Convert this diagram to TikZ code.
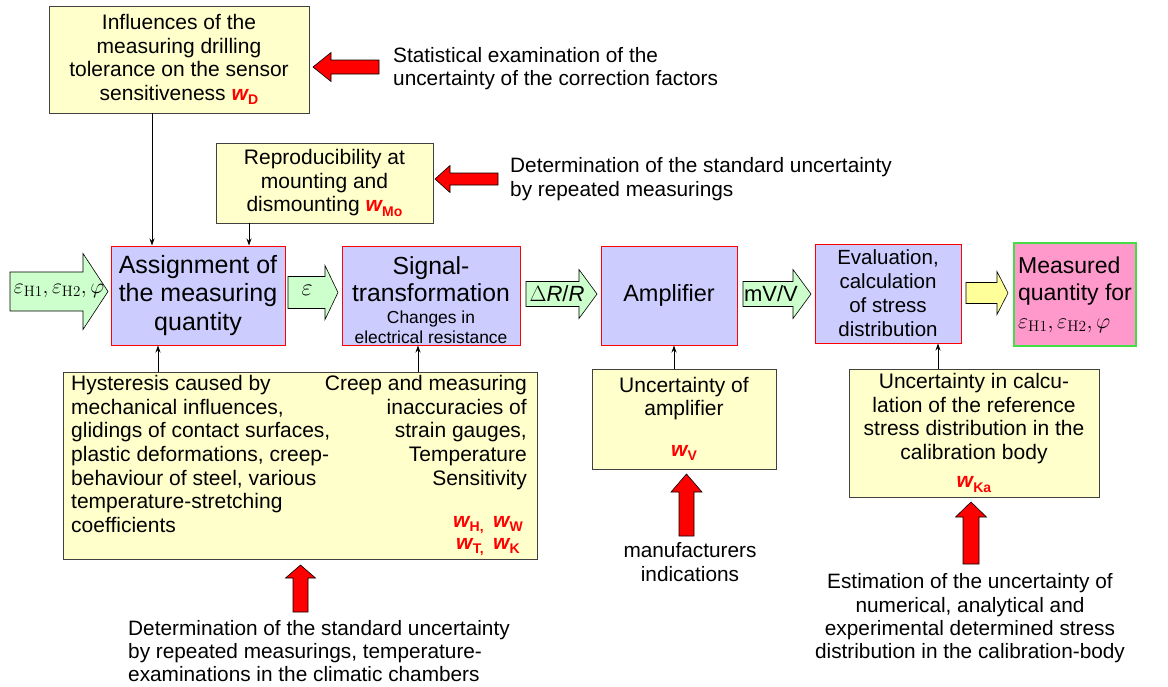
\RequirePackage{fix-cm}
\documentclass[tikz,border=0pt]{standalone}
\usepackage[no-math]{fontspec}
\setmainfont{Liberation Sans}
\usetikzlibrary{arrows.meta}
\definecolor{ybox}{HTML}{FFFFCC}
\definecolor{lav}{HTML}{CCCCFF}
\definecolor{garrow}{HTML}{CCFFCC}
\definecolor{pinkbox}{HTML}{FF99CC}
\definecolor{gborder}{HTML}{44DD44}
\definecolor{yarrow}{HTML}{FFFF99}
\newcommand{\wl}[1]{{\color{red}\bfseries\itshape w\kern0.3pt\raisebox{-0.4ex}{\upshape\fontsize{14}{14}\selectfont #1}}}
% horizontal block arrow: style, tail x, tip x, centre y, body half, head half, head-base x
\newcommand{\harrow}[7]{\draw[#1] (#2,#4-#5) -- (#7,#4-#5) -- (#7,#4-#6) -- (#3,#4) -- (#7,#4+#6) -- (#7,#4+#5) -- (#2,#4+#5) -- cycle;}
% vertical block arrow: style, centre x, tail y, tip y, body half, head half, head-base y
\newcommand{\varrow}[7]{\draw[#1] (#2-#5,#3) -- (#2-#5,#7) -- (#2-#6,#7) -- (#2,#4) -- (#2+#6,#7) -- (#2+#5,#7) -- (#2+#5,#3) -- cycle;}
\tikzset{
  ybx/.style={draw=black!75, fill=ybox, line width=0.9pt, inner sep=0pt, align=center, font=\fontsize{21}{23.5}\selectfont},
  mbx/.style={draw=red, fill=lav, line width=1pt, inner sep=0pt, align=center, font=\fontsize{25}{28.5}\selectfont},
  conn/.style={-{Stealth[length=7pt,width=5pt]}, line width=0.9pt},
  redarr/.style={fill=red, draw=black, line width=0.6pt},
  grnarr/.style={fill=garrow, draw=black, line width=0.6pt},
  yelarr/.style={fill=yarrow, draw=black, line width=0.6pt},
  txt/.style={inner sep=0pt, font=\fontsize{20.8}{23.3}\selectfont},
}
\begin{document}
\begin{tikzpicture}[x=1pt,y=-1pt]
\useasboundingbox[fill=white] (0,0) rectangle (1168,686);

% ---------- boxes ----------
\node[ybx, minimum width=260, minimum height=107] (infl) at (179,59.5)
  {Influences of the\\measuring drilling\\tolerance on the sensor\\sensitiveness \wl{D}};
\node[ybx, minimum width=217, minimum height=80] (mo) at (324.5,183)
  {Reproducibility at\\mounting and\\dismounting \wl{Mo}};
\node[mbx, minimum width=174, minimum height=99] (assign) at (198,295.5)
  {Assignment of\\the measuring\\quantity};
\node[mbx, minimum width=178, minimum height=99] (signal) at (431,295.5) {};
\node[txt, align=center, font=\fontsize{24.7}{27}\selectfont] (sigt) at (431,279) {Signal-\\transformation};
\node[txt, align=center, font=\fontsize{17.4}{20}\selectfont] (sigs) at (431,327) {Changes in\\electrical resistance};
\node[mbx, minimum width=136, minimum height=99, font=\fontsize{23.5}{28}\selectfont] (amp) at (669,295.5) {Amplifier};
\node[mbx, minimum width=146, minimum height=99, font=\fontsize{20.5}{24}\selectfont] (eval) at (888,293.5)
  {Evaluation,\\calculation\\of stress\\distribution};
\node[draw=gborder, fill=pinkbox, line width=1.2pt, minimum width=122, minimum height=103, inner sep=0pt,
  align=left, font=\fontsize{23}{27.5}\selectfont] (meas) at (1075,294.5)
  {Measured\\quantity for\\{\fontsize{22}{27.5}\selectfont$\varepsilon_{\mathrm{H1}},\varepsilon_{\mathrm{H2}},\varphi$}};
\node[ybx, minimum width=474, minimum height=187] (bottom) at (300,465.5) {};
\node[txt, anchor=north west, align=left, font=\fontsize{21}{23.7}\selectfont] (bl) at (71,375)
  {Hysteresis caused by\\mechanical influences,\\glidings of contact surfaces,\\plastic deformations, creep-\\behaviour of steel, various\\temperature-stretching\\coefficients};
\node[txt, anchor=north east, align=right, font=\fontsize{21}{23.7}\selectfont] (br) at (527,375)
  {Creep and measuring\\inaccuracies of\\strain gauges,\\Temperature\\Sensitivity};
\node[txt, align=center, font=\fontsize{21}{22}\selectfont] (bw) at (488,536)
  {\wl{H{,}}\, \wl{W}\\\wl{T{,}}\, \wl{K}};
\node[ybx, minimum width=184, minimum height=100] (uamp) at (684,419)
  {Uncertainty of\\amplifier\\[17pt]\wl{V}};
\node[ybx, minimum width=250, minimum height=128] (uka) at (974,433)
  {Uncertainty in calcu-\\lation of the reference\\stress distribution in the\\calibration body\\[5pt]\wl{Ka}};

% ---------- thin connectors ----------
\coordinate (x1) at (152,0);
\coordinate (x2) at (249,0);
\coordinate (x3) at (158,0);
\coordinate (x4) at (418,0);
\coordinate (x5) at (674,0);
\coordinate (x6) at (938,0);
\draw[conn] (x1 |- infl.south) -- (x1 |- assign.north);
\draw[conn] (x2 |- mo.south) -- (x2 |- assign.north);
\draw[conn] (x3 |- bottom.north) -- (x3 |- assign.south);
\draw[conn] (x4 |- bottom.north) -- (x4 |- signal.south);
\draw[conn] (x5 |- uamp.north) -- (x5 |- amp.south);
\draw[conn] (x6 |- uka.north) -- (x6 |- eval.south);

% ---------- block arrows in the main row ----------
\harrow{grnarr}{10}{108}{291.5}{19.5}{38}{83}
\node[inner sep=0pt, font=\fontsize{21.5}{22}\selectfont] (ain) at (59,291) {$\varepsilon_{\mathrm{H1}},\varepsilon_{\mathrm{H2}},\varphi$};
\harrow{grnarr}{288}{338}{292.5}{16}{27}{325}
\node[inner sep=0pt, font=\fontsize{24}{24}\selectfont] (aeps) at (307,290) {$\varepsilon$};
\harrow{grnarr}{526}{597}{294}{12.5}{24.5}{579}
\node[inner sep=0pt, font=\fontsize{22}{22}\selectfont] (adr) at (557,294) {$\Delta$\textit{R}/\textit{R}};
\harrow{grnarr}{743}{811}{294}{12.5}{24.5}{793}
\node[inner sep=0pt, font=\fontsize{22}{22}\selectfont] (amv) at (771,294) {mV/V};
\harrow{yelarr}{966}{1008}{293}{10.5}{21.5}{997}

% ---------- red block arrows ----------
\harrow{redarr}{379}{313}{67}{7}{14.5}{331}
\harrow{redarr}{498}{435}{179}{6}{13.5}{450}
\varrow{redarr}{300.5}{612}{565}{7.5}{15}{578}
\varrow{redarr}{686.5}{536}{474}{7.5}{15.5}{492}
\varrow{redarr}{971}{564}{502}{8}{15.5}{517}

% ---------- free texts ----------
\node[txt, anchor=west, align=left] (t1) at (393,68.5)
  {Statistical examination of the\\uncertainty of the correction factors};
\node[txt, anchor=west, align=left] (t2) at (510,179)
  {Determination of the standard uncertainty\\by repeated measurings};
\node[txt, anchor=west, align=left] (t3) at (128,651)
  {Determination of the standard uncertainty\\by repeated measurings, temperature-\\examinations in the climatic chambers};
\node[txt, align=center] (t4) at (690,562) {manufacturers\\indications};
\node[txt, align=center] (t5) at (970,618.5)
  {Estimation of the uncertainty of\\numerical, analytical and\\experimental determined stress\\distribution in the calibration-body};
\end{tikzpicture}
\end{document}
